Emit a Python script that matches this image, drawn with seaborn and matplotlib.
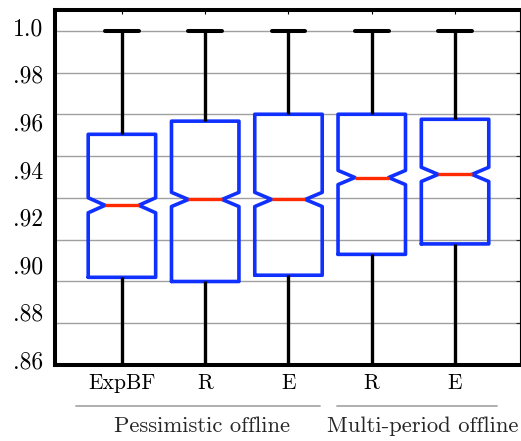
import numpy as np
import pandas as pd
import seaborn as sns
import matplotlib.pyplot as plt
import matplotlib.transforms as mtransforms

# five-number summaries
methods = ['ExpBF', 'R', 'E', 'R', 'E']
groups = ['Pessimistic offline', 'Pessimistic offline', 'Pessimistic offline',
          'Multi-period offline', 'Multi-period offline']
whisker_lo = [0.83, 0.83, 0.83, 0.83, 0.83]
q1 = [0.882, 0.880, 0.883, 0.893, 0.898]
median = [0.9165, 0.9193, 0.9193, 0.9298, 0.9313]
q3 = [0.9505, 0.9568, 0.9601, 0.9601, 0.9577]
whisker_hi = [1.0, 1.0, 1.0, 1.0, 1.0]
notch_half = [0.0036, 0.0034, 0.0034, 0.0034, 0.0034]

ytick_labels = ['1.0', '.98', '.96', '.94', '.92', '.90', '.88', '.86']
group_names = ['Pessimistic offline', 'Multi-period offline']

# long table, one row per summary value
keys = [g + ' ' + m for g, m in zip(groups, methods)]
rows = []
for k, lo, a, m, b, hi in zip(keys, whisker_lo, q1, median, q3, whisker_hi):
    for v in (lo, a, m, b, hi):
        rows.append({'config': k, 'acc': v})
df = pd.DataFrame(rows)

sns.set_theme(style='white')
plt.rcParams['font.family'] = 'serif'
plt.rcParams['font.serif'] = ['cmr10', 'DejaVu Serif']
plt.rcParams['axes.formatter.use_mathtext'] = True

blue = '#1030ff'
red = '#ff2a00'

fig = plt.figure(figsize=(5.21, 4.41), dpi=100)
ax = fig.add_axes([55.3 / 521, 1 - 365 / 441, (520 - 55.3) / 521, (365 - 10.3) / 441])

# notch limits come from the chart, not from the sample size
bxp_orig = ax.bxp
def bxp_notched(bxpstats, **kws):
    for s, h in zip(bxpstats, notch_half):
        s['cilo'], s['cihi'] = s['med'] - h, s['med'] + h
    return bxp_orig(bxpstats, **kws)
ax.bxp = bxp_notched

sns.boxplot(data=df, x='config', y='acc', order=keys, ax=ax,
            notch=True, whis=(0, 100), fill=False, width=0.81,
            boxprops=dict(color=blue, linewidth=2.6),
            medianprops=dict(color=red, linewidth=2.4),
            whiskerprops=dict(color='black', linewidth=2.4),
            capprops=dict(color='black', linewidth=2.9),
            showfliers=False)

# y axis: grid every .02, labels spread on their own
grid_vals = np.arange(0.84, 1.0001, 0.02)
label_pos = np.linspace(1.0021, 0.8424, len(ytick_labels))
ax.set_yticks(grid_vals, minor=True)
ax.set_yticks(label_pos, ytick_labels)
ax.set_ylim(0.84, 1.0099)
ax.yaxis.grid(True, which='minor', color='#a0a0a0', linewidth=1.0)
ax.yaxis.grid(False, which='major')
ax.set_axisbelow(True)
ax.tick_params(axis='y', which='major', left=False, length=0, pad=8.5, labelsize=17, colors='black')
ax.tick_params(axis='y', which='minor', left=False, right=True, direction='in', length=3, width=0.8)

ax.set_xticks(range(len(methods)), methods)
ax.set_xlim(-0.80, 4.78)
ax.tick_params(axis='x', bottom=False, top=True, direction='in', length=3, width=0.8,
               labelsize=15.5, pad=6, colors='black')
ax.set_xlabel('')
ax.set_ylabel('')

for side in ['left', 'top', 'bottom']:
    ax.spines[side].set_linewidth(2.9)
    ax.spines[side].set_color('black')
ax.spines['right'].set_linewidth(0.8)
ax.spines['right'].set_color('black')

# group brackets under the tick labels
trans = mtransforms.blended_transform_factory(ax.transData, ax.transAxes)
spans = [(-0.55, 2.38), (2.58, 4.5)]
text_x = [0.967, 3.61]
for name, (x0, x1), tx in zip(group_names, spans, text_x):
    ax.plot([x0, x1], [-0.1156, -0.1156], color='#a8a8a8', linewidth=1.3,
            transform=trans, clip_on=False)
    ax.text(tx, -0.172, name, transform=trans, ha='center', va='center',
            fontsize=16.3)

fig.savefig('out.png', dpi=100)
